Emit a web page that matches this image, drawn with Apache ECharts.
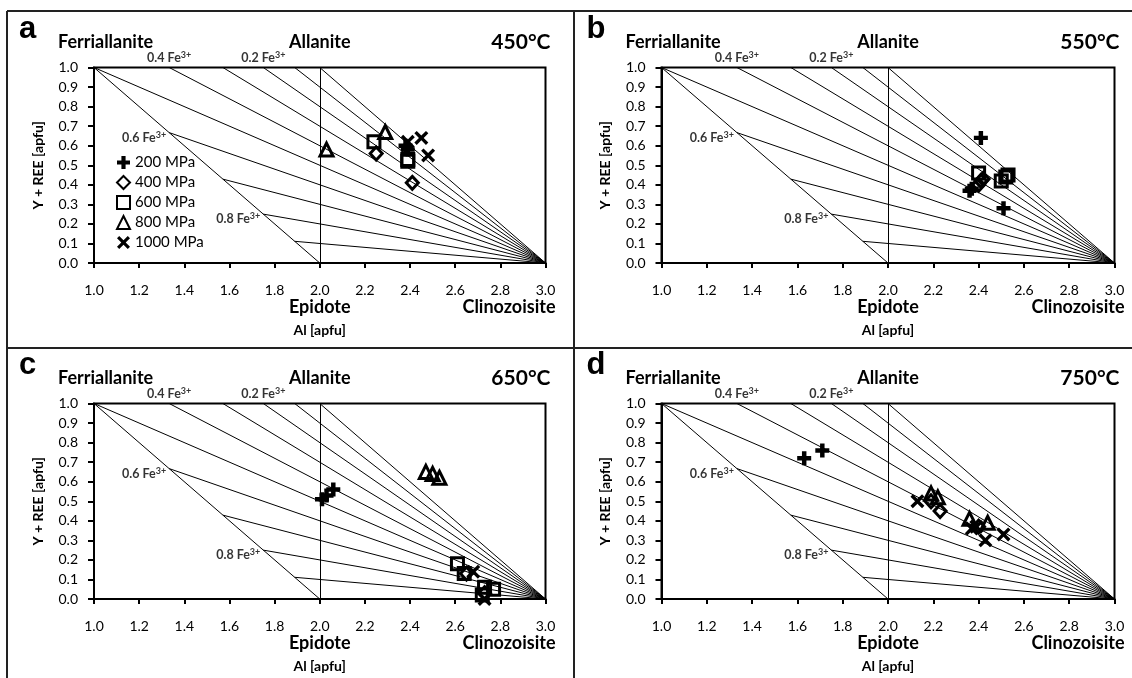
<!DOCTYPE html>
<html><head><meta charset="utf-8">
<script src="https://cdn.jsdelivr.net/npm/echarts@6/dist/echarts.min.js"></script>
<style>html,body{margin:0;padding:0;background:#fff}#c{width:1132px;height:678px}</style>
</head><body><div id="c"></div><script>
// ---------- DATA ----------
const panelLetters = ['a', 'b', 'c', 'd'];
const temperatures = ['450°C', '550°C', '650°C', '750°C'];
const pressures = ['200 MPa', '400 MPa', '600 MPa', '800 MPa', '1000 MPa'];

// panel a (450 °C)
const a200 = [[2.38, 0.60], [2.39, 0.58]];
const a400 = [[2.25, 0.56], [2.41, 0.41]];
const a600 = [[2.24, 0.62], [2.39, 0.52], [2.39, 0.53]];
const a800 = [[2.03, 0.58], [2.29, 0.67]];
const a1000 = [[2.39, 0.62], [2.45, 0.64], [2.48, 0.55]];
// panel b (550 °C)
const b200 = [[2.41, 0.64], [2.51, 0.28], [2.36, 0.37], [2.37, 0.38]];
const b400 = [[2.40, 0.40], [2.41, 0.42], [2.42, 0.43]];
const b600 = [[2.40, 0.46], [2.50, 0.42], [2.53, 0.45], [2.52, 0.44]];
const b800 = [];
const b1000 = [];
// panel c (650 °C)
const c200 = [[2.01, 0.51], [2.03, 0.53], [2.06, 0.56]];
const c400 = [[2.65, 0.13], [2.73, 0.03]];
const c600 = [[2.61, 0.18], [2.64, 0.13], [2.73, 0.06], [2.77, 0.05], [2.72, 0.02]];
const c800 = [[2.47, 0.65], [2.50, 0.64], [2.53, 0.62]];
const c1000 = [[2.68, 0.14], [2.73, 0.00]];
// panel d (750 °C)
const d200 = [[1.63, 0.72], [1.71, 0.76]];
const d400 = [[2.19, 0.50], [2.23, 0.45], [2.40, 0.37]];
const d600 = [];
const d800 = [[2.19, 0.54], [2.22, 0.52], [2.36, 0.41], [2.44, 0.39]];
const d1000 = [[2.13, 0.50], [2.39, 0.37], [2.43, 0.30], [2.51, 0.33], [2.37, 0.36]];

const panelData = [
  [a200, a400, a600, a800, a1000],
  [b200, b400, b600, b800, b1000],
  [c200, c400, c600, c800, c1000],
  [d200, d400, d600, d800, d1000]
];

// reference lines of the classification diagram (end points in Al / Y+REE units)
const refSegments = [
  [[1, 1], [3, 0]],
  [[1, 1], [2, 0]],
  [[2, 0], [2, 1]],
  [[1.333, 1], [3, 0]],
  [[1.571, 1], [3, 0]],
  [[1.75, 1], [3, 0]],
  [[1.889, 1], [3, 0]],
  [[2.0, 1], [3, 0]],
  [[1.333, 0.667], [3, 0]],
  [[1.571, 0.429], [3, 0]],
  [[1.75, 0.25], [3, 0]],
  [[1.889, 0.111], [3, 0]]
];
const feLabelText = ['0.4', '0.2', '0.6', '0.8'];
const feLabelAt = [[1.333, 1], [1.75, 1], [1.333, 0.667], [1.75, 0.25]];

// ---------- LAYOUT ----------
const FONT = 'Lato, "Open Sans", sans-serif';
const grids = [
  { left: 94, top: 67.5, width: 451.5, height: 195.5 },
  { left: 661.5, top: 67.5, width: 453, height: 195.5 },
  { left: 94, top: 403.5, width: 451.5, height: 195.5 },
  { left: 661.5, top: 403.5, width: 453, height: 195.5 }
];
const PLUS = 'path://M3.4,0H6.6V3.4H10V6.6H6.6V10H3.4V6.6H0V3.4H3.4Z';
const CROSS = 'path://M0,1.7L1.7,0L5,3.3L8.3,0L10,1.7L6.7,5L10,8.3L8.3,10L5,6.7L1.7,10L0,8.3L3.3,5Z';
const symbolDefs = [
  { symbol: PLUS, size: 14, filled: true },
  { symbol: 'diamond', size: [12, 13], filled: false },
  { symbol: 'rect', size: 12, filled: false },
  { symbol: 'triangle', size: 13, filled: false },
  { symbol: CROSS, size: 14, filled: true }
];

const xAxes = [], yAxes = [], series = [], graphics = [];
grids.forEach((g, i) => {
  xAxes.push({
    type: 'value', gridIndex: i, min: 1, max: 3, interval: 0.2,
    axisLine: { show: true, onZero: false, lineStyle: { color: '#000', width: 2 } },
    axisTick: { show: true, length: 5, lineStyle: { color: '#000', width: 2 } },
    axisLabel: { margin: 20, color: '#000', fontSize: 14, fontFamily: FONT, formatter: v => v.toFixed(1) },
    splitLine: { show: false },
    name: 'Al [apfu]', nameLocation: 'middle', nameGap: 60,
    nameTextStyle: { color: '#000', fontSize: 14, fontWeight: 'bold', fontFamily: FONT }
  });
  yAxes.push({
    type: 'value', gridIndex: i, min: 0, max: 1, interval: 0.1,
    axisLine: { show: true, onZero: false, lineStyle: { color: '#000', width: 2 } },
    axisTick: { show: true, length: 6, lineStyle: { color: '#000', width: 2 } },
    axisLabel: { margin: 16, color: '#000', fontSize: 14, fontFamily: FONT, formatter: v => v.toFixed(1) },
    splitLine: { show: false },
    name: 'Y + REE [apfu]', nameLocation: 'middle', nameGap: 49, nameRotate: 90,
    nameTextStyle: { color: '#000', fontSize: 14, fontWeight: 'bold', fontFamily: FONT }
  });
  series.push({
    type: 'lines', coordinateSystem: 'cartesian2d', xAxisIndex: i, yAxisIndex: i, silent: true,
    lineStyle: { color: '#000', width: 1, opacity: 1 }, z: 2,
    data: refSegments.map(s => ({ coords: s }))
  });
  series.push({
    type: 'scatter', xAxisIndex: i, yAxisIndex: i, silent: true, symbolSize: 0, z: 3,
    data: feLabelAt.map((p, k) => ({
      value: p,
      label: k < 2 ? { position: 'top', distance: 2 } : { position: 'left', distance: 3, offset: [0, 5] }
    })),
    label: {
      show: true,
      formatter: p => '{b|' + feLabelText[p.dataIndex] + ' Fe}{s|3+}',
      rich: {
        b: { fontSize: 12.5, fontWeight: 'bold', color: '#000', fontFamily: FONT, lineHeight: 15 },
        s: { fontSize: 9, fontWeight: 'bold', color: '#000', fontFamily: FONT, verticalAlign: 'top', lineHeight: 9 }
      }
    }
  });
  pressures.forEach((name, k) => {
    const sd = symbolDefs[k];
    series.push({
      type: 'scatter', name, xAxisIndex: i, yAxisIndex: i, z: 5,
      symbol: sd.symbol, symbolSize: sd.size,
      itemStyle: sd.filled ? { color: '#000', borderWidth: 0, opacity: 1 } :
        { color: 'rgba(255,255,255,0)', borderColor: '#000', borderWidth: 3, opacity: 1 },
      data: panelData[i][k]
    });
  });
  const L = g.left, T = g.top, R = g.left + g.width, B = g.top + g.height, M = g.left + g.width / 2;
  const txt = (text, x, y, size, align, family, weight) => graphics.push({
    type: 'text', silent: true,
    style: { text, x, y, fill: '#000', font: (weight || 'bold') + ' ' + size + 'px ' + (family || FONT),
      align, verticalAlign: 'middle', textAlign: align, textVerticalAlign: 'middle' }
  });
  txt(panelLetters[i], L - 75, T - 38, 31, 'left', '"Liberation Sans", Arial, sans-serif');
  txt('Ferriallanite', L - 36, T - 25, 18, 'left');
  txt('Allanite', M, T - 25, 18, 'center');
  txt(temperatures[i], R + 5, T - 25, 21, 'right');
  txt('Epidote', M, B + 44, 18, 'center');
  txt('Clinozoisite', R + 10, B + 44, 18, 'right');
});

// outer frame / panel dividers
[[7, 11, 1132, 11], [7, 11, 7, 678], [7, 348, 1132, 348], [574, 11, 574, 678]].forEach(l => graphics.push({
  type: 'line', silent: true, shape: { x1: l[0], y1: l[1], x2: l[2], y2: l[3] },
  style: { stroke: '#222', lineWidth: 2 }
}));

const chart = echarts.init(document.getElementById('c'), null, { renderer: 'canvas' });
chart.setOption({
  animation: false,
  backgroundColor: '#fff',
  grid: grids.map(g => Object.assign({ show: true, borderColor: '#000', borderWidth: 2, backgroundColor: 'rgba(0,0,0,0)' }, g)),
  xAxis: xAxes,
  yAxis: yAxes,
  legend: {
    left: 111, top: 150, orient: 'vertical', itemWidth: 13, itemHeight: 13, itemGap: 5,
    selectedMode: false, data: pressures,
    textStyle: { color: '#000', fontSize: 15, fontFamily: FONT }
  },
  graphic: graphics,
  series
});
</script></body></html>
